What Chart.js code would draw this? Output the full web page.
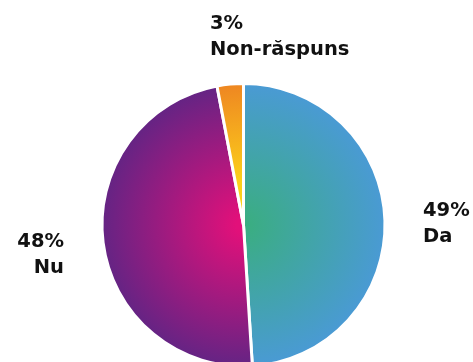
<!DOCTYPE html>
<html><head><meta charset="utf-8">
<script src="https://cdn.jsdelivr.net/npm/chart.js@4.4.1/dist/chart.umd.min.js"></script>
<style>
html,body{margin:0;padding:0;background:#fff;overflow:hidden;width:473px;height:362px}
#wrap{position:absolute;left:0;top:0;width:473px;height:370px}
</style></head>
<body><div id="wrap"><canvas id="c"></canvas></div>
<script>
const categories = ['Da', 'Nu', 'Non-răspuns'];
const values = [49, 48, 3];
const valueLabels = ['49%', '48%', '3%'];
const innerColors = ['#3aae7f', '#e2107a', '#fcd01a'];
const outerColors = ['#4a9ad5', '#632484', '#ee8522'];
const innerStops = [0, 0.05, 0.3];

function grad(context) {
  const chart = context.chart;
  const a = chart.chartArea;
  if (!a) return innerColors[context.dataIndex];
  const cx = (a.left + a.right) / 2, cy = (a.top + a.bottom) / 2;
  const r = Math.min(a.right - a.left, a.bottom - a.top) / 2;
  const i = context.dataIndex;
  const g = chart.ctx.createRadialGradient(cx, cy, 0, cx, cy, r);
  g.addColorStop(innerStops[i], innerColors[i]);
  g.addColorStop(1, outerColors[i]);
  return g;
}

const labelPlugin = {
  id: 'sliceLabels',
  afterDraw(chart, args, opts) {
    const ctx = chart.ctx;
    ctx.save();
    ctx.font = 'bold 19.5px "DejaVu Sans"';
    ctx.fillStyle = '#111';
    ctx.textBaseline = 'alphabetic';
    opts.anchors.forEach((p, i) => {
      ctx.textAlign = p.align;
      ctx.fillText(valueLabels[i], p.x, p.y);
      ctx.fillText(categories[i], p.x, p.y + 26);
    });
    ctx.restore();
  }
};

new Chart(document.getElementById('c'), {
  type: 'pie',
  data: {
    labels: categories,
    datasets: [{
      data: values,
      backgroundColor: grad,
      borderColor: '#ffffff',
      borderWidth: 3
    }]
  },
  options: {
    responsive: true,
    maintainAspectRatio: false,
    animation: false,
    layout: { padding: { top: 82, bottom: 2, left: 100, right: 86 } },
    plugins: {
      legend: { display: false },
      tooltip: { enabled: false },
      sliceLabels: {
        anchors: [
          { x: 423, y: 216, align: 'left' },
          { x: 64, y: 247, align: 'right' },
          { x: 210, y: 29, align: 'left' }
        ]
      }
    }
  },
  plugins: [labelPlugin]
});
</script></body></html>
